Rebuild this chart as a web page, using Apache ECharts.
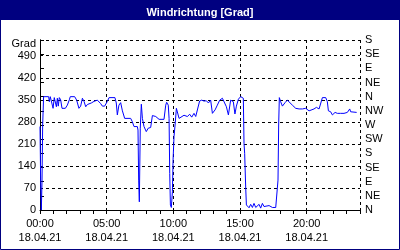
<!DOCTYPE html>
<html>
<head>
<meta charset="utf-8">
<script src="https://cdn.jsdelivr.net/npm/echarts@6/dist/echarts.min.js"></script>
<style>
html,body{margin:0;padding:0;background:#fff;}
#chart{width:400px;height:250px;}
</style>
</head>
<body>
<div id="chart"></div>
<script>
// Hours since 18.04.21 00:00
var times = [
  0.00,0.05,0.10,0.15,0.20,0.27,0.65,0.70,0.77,0.90,0.98,1.07,1.15,1.23,1.30,1.37,1.45,1.55,1.65,1.80,
  1.90,2.05,2.20,2.27,2.60,2.75,2.92,3.05,3.18,3.30,3.43,3.55,3.68,3.85,4.05,4.30,4.45,4.55,4.68,4.85,
  4.97,5.05,5.18,5.62,5.72,5.80,5.92,6.05,6.18,6.35,6.60,6.80,6.92,7.05,7.30,7.35,7.40,7.45,7.52,7.60,
  7.68,7.80,7.97,8.12,8.30,8.43,8.68,8.93,9.30,9.43,9.50,9.62,9.68,9.73,9.78,9.85,9.93,9.98,10.05,10.13,
  10.23,10.33,10.43,10.55,10.80,11.05,11.23,11.38,11.55,11.68,11.80,11.97,12.13,12.30,12.48,12.63,12.80,12.93,13.13,13.30,
  13.48,13.68,13.80,13.98,14.13,14.30,14.43,14.50,14.62,14.73,14.88,15.05,15.18,15.25,15.30,15.35,15.43,15.48,15.55,15.68,
  15.80,15.93,16.05,16.18,16.30,16.43,16.55,16.68,16.80,16.93,17.18,17.43,17.68,17.80,17.85,17.90,17.95,18.05,18.18,18.38,
  18.55,18.68,18.93,19.18,19.43,19.68,19.93,20.18,20.30,20.55,20.73,20.93,21.05,21.18,21.43,21.55,21.63,21.80,21.93,22.13,
  22.30,22.55,22.80,23.05,23.23,23.30,23.43,23.75
];
// Wind direction in degrees
var directions = [
  265,90,0,90,270,360,360,344,360,360,323,357,360,328,355,330,357,350,323,321,
  323,333,350,360,360,349,323,330,355,345,328,335,338,340,345,349,352,338,330,330,
  330,345,357,357,340,302,333,341,315,291,291,291,281,265,265,254,95,26,260,336,
  291,265,249,260,262,300,297,288,288,333,342,333,291,116,16,8,58,159,233,270,
  323,325,291,297,301,297,304,295,307,297,291,346,349,346,347,340,349,307,318,333,
  349,355,349,328,302,349,355,344,305,330,352,360,360,355,212,180,69,16,11,7,
  18,8,21,8,14,18,6,21,11,8,14,8,8,11,95,270,357,344,330,341,
  349,346,333,323,321,321,323,315,321,321,326,321,318,357,357,344,315,312,302,310,
  307,307,307,310,321,312,310,310
];
var dateLabel = '18.04.21';
var compassLabels = ['N','NE','E','SE','S','SW','W','NW','N','NE','E','SE','S'];
var chartTitle = 'Windrichtung [Grad]';
var unitLabel = 'Grad';

var seriesData = times.map(function (t, i) { return [t, directions[i]]; });

var FONT = 'Liberation Sans';
var chart = echarts.init(document.getElementById('chart'), null, {renderer: 'canvas'});
chart.setOption({
  animation: false,
  backgroundColor: '#ffffff',
  graphic: [
    {type: 'rect', z: 0, shape: {x: 0.5, y: 0.5, width: 399, height: 249}, style: {fill: '#ffffff', stroke: '#000080', lineWidth: 1}},
    {type: 'rect', z: 0, shape: {x: 0, y: 0, width: 400, height: 20}, style: {fill: '#000080'}}
  ],
  title: {
    text: chartTitle,
    left: 'center',
    top: 2,
    z: 10,
    textStyle: {color: '#ffffff', fontFamily: FONT, fontWeight: 'bold', fontSize: 11}
  },
  grid: {left: 40, right: 40, top: 40, bottom: 40, show: true, borderColor: '#000', borderWidth: 1, backgroundColor: 'transparent'},
  xAxis: [
    {
      type: 'value', min: 0, max: 24, interval: 5, position: 'bottom',
      axisLine: {show: true, lineStyle: {color: '#000', width: 1}},
      axisTick: {show: false},
      axisLabel: {
        color: '#000', fontFamily: FONT, fontSize: 11, margin: 7, lineHeight: 14,
        formatter: function (v) {
          if (v % 5 !== 0) return '';
          var h = (v < 10 ? '0' : '') + v;
          return h + ':00\n' + dateLabel;
        }
      },
      splitLine: {show: true, lineStyle: {color: '#000', width: 1, type: [3, 3]}}
    },
    {
      type: 'value', min: 0, max: 24, interval: 1, position: 'bottom', gridIndex: 0,
      axisLine: {show: false},
      axisTick: {show: true, length: 4, lineStyle: {color: '#000', width: 1}},
      axisLabel: {show: false},
      splitLine: {show: false}
    }
  ],
  yAxis: [
    {
      type: 'value', min: 0, max: 540, interval: 70, position: 'left',
      axisLine: {show: true, lineStyle: {color: '#000', width: 1}},
      axisTick: {show: false},
      axisLabel: {
        color: '#000', fontFamily: FONT, fontSize: 11, margin: 4,
        formatter: function (v) { return v === 540 ? '{g|' + unitLabel + '}' : String(v); },
        rich: {g: {fontFamily: FONT, fontSize: 11, color: '#000', padding: [8, 0, 0, 0]}}
      },
      splitLine: {show: true, lineStyle: {color: '#000', width: 1, type: [3, 3]}}
    },
    {
      type: 'value', min: 0, max: 540, interval: 45, position: 'right',
      axisLine: {show: true, lineStyle: {color: '#000', width: 1}},
      axisTick: {show: true, inside: false, length: 4, lineStyle: {color: '#000', width: 1}},
      axisLabel: {
        color: '#000', fontFamily: FONT, fontSize: 11, margin: 5,
        formatter: function (v) { return compassLabels[Math.round(v / 45)] || ''; }
      },
      splitLine: {show: false}
    }
  ],
  series: [{
    type: 'line',
    xAxisIndex: 0,
    yAxisIndex: 0,
    data: seriesData,
    showSymbol: false,
    symbol: 'none',
    lineStyle: {color: '#0000ff', width: 1},
    z: 5
  }]
});
</script>
</body>
</html>
